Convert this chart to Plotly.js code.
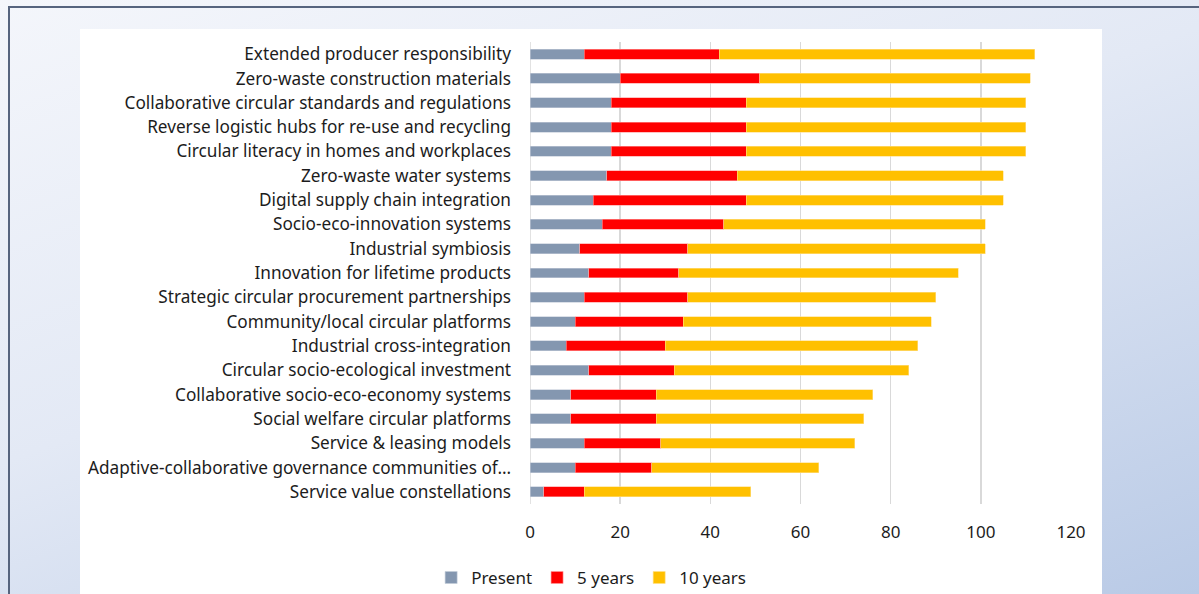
<!DOCTYPE html>
<html>
<head>
<meta charset="utf-8">
<script src="https://cdn.plot.ly/plotly-3.0.1.min.js"></script>
<style>
  html, body { margin: 0; padding: 0; }
  #wrap { position: relative; width: 1199px; height: 594px; overflow: hidden;
          background: linear-gradient(160deg, #f4f6fb 0%, #e3e9f5 45%, #b9cae6 100%); }
  #frame { position: absolute; left: 8px; top: 6px; right: -4px; bottom: -4px;
           border-top: 2px solid #56647e; border-left: 2px solid #56647e; }
  #panel { position: absolute; left: 80px; top: 29px; width: 1022px; height: 570px; background: #ffffff; }
  #chart { position: absolute; left: 0; top: 0; width: 1199px; height: 594px; }
</style>
</head>
<body>
<div id="wrap">
  <div id="frame"></div>
  <div id="panel"></div>
  <div id="chart"></div>
</div>
<script>
const categories = [
  "Extended producer responsibility",
  "Zero-waste construction materials",
  "Collaborative circular standards and regulations",
  "Reverse logistic hubs for re-use and recycling",
  "Circular literacy in homes and workplaces",
  "Zero-waste water systems",
  "Digital supply chain integration",
  "Socio-eco-innovation systems",
  "Industrial symbiosis",
  "Innovation for lifetime products",
  "Strategic circular procurement partnerships",
  "Community/local circular platforms",
  "Industrial cross-integration",
  "Circular socio-ecological investment",
  "Collaborative socio-eco-economy systems",
  "Social welfare circular platforms",
  "Service & leasing models",
  "Adaptive-collaborative governance communities of\u2026",
  "Service value constellations"
];
const present  = [12, 20, 18, 18, 18, 17, 14, 16, 11, 13, 12, 10, 8, 13, 9, 9, 12, 10, 3];
const years5   = [30, 31, 30, 30, 30, 29, 34, 27, 24, 20, 23, 24, 22, 19, 19, 19, 17, 17, 9];
const years10  = [70, 60, 62, 62, 62, 59, 57, 58, 66, 62, 55, 55, 56, 52, 48, 46, 43, 37, 37];
const seriesNames = ["Present", "5 years", "10 years"];
const xTicks = [0, 20, 40, 60, 80, 100, 120];

const colors = ["#8497b0", "#ff0000", "#ffc000"];
const lineColors = ["#c3ccd9", "#ff9a9a", "#ffe08a"];
const seriesData = [present, years5, years10];

const traces = seriesData.map((vals, i) => ({
  type: "bar",
  orientation: "h",
  name: seriesNames[i],
  y: categories,
  x: vals,
  marker: { color: colors[i], line: { color: lineColors[i], width: 0.6 } },
  hoverinfo: "x+y+name"
}));

const font = "'Noto Sans', 'Open Sans', sans-serif";
const layout = {
  width: 1199, height: 594,
  paper_bgcolor: "rgba(0,0,0,0)",
  plot_bgcolor: "rgba(0,0,0,0)",
  margin: { l: 530, r: 128, t: 42, b: 90, pad: 0, autoexpand: false },
  barmode: "stack",
  bargap: 0.59,
  showlegend: true,
  font: { family: font, color: "#1c1c1c", size: 17 },
  xaxis: {
    range: [0, 120],
    tickvals: xTicks,
    ticktext: xTicks.map(String),
    showgrid: true, gridcolor: "#d9d9d9", gridwidth: 1.5,
    zeroline: false, showline: false,
    ticks: "", ticklabelstandoff: 16,
    tickfont: { family: font, size: 17, color: "#1c1c1c" },
    automargin: false,
    fixedrange: true
  },
  yaxis: {
    type: "category",
    autorange: "reversed",
    showgrid: false, zeroline: false, showline: false,
    ticks: "", ticklabelstandoff: 18,
    tickfont: { family: font, size: 17.2, color: "#1c1c1c" },
    automargin: false,
    fixedrange: true
  },
  shapes: [{
    type: "line", xref: "x", yref: "paper", x0: 0, x1: 0, y0: 0, y1: 1,
    line: { color: "#d9d9d9", width: 1.5 }, layer: "below"
  }],
  legend: {
    orientation: "h", traceorder: "normal",
    x: 0.113, xanchor: "center", y: -0.16, yanchor: "middle",
    font: { family: font, size: 17, color: "#1c1c1c" },
    itemwidth: 30, bgcolor: "rgba(0,0,0,0)"
  }
};

Plotly.newPlot("chart", traces, layout, { displayModeBar: false, staticPlot: true });
</script>
</body>
</html>
